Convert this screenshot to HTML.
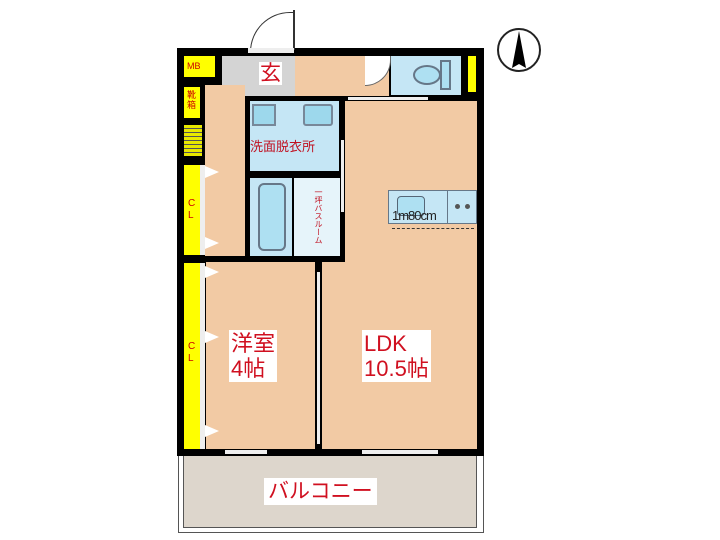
<!DOCTYPE html>
<html><head><meta charset="utf-8"><style>
body{margin:0;width:720px;height:540px;background:#fff;position:relative;overflow:hidden;font-family:"Liberation Sans","Noto Sans CJK JP",sans-serif}
div{position:absolute;box-sizing:border-box}
.k{background:#000}.t{background:#f2caa4}.y{background:#ffff00}.b{background:#c5e6f5}
.lbl{color:#d01020;background:#fff;line-height:1}
.tri{width:0;height:0;border-top:6px solid transparent;border-bottom:6px solid transparent;border-left:14px solid #fff}
</style></head><body>
<div class="k" style="left:177px;top:48px;width:307px;height:408px"></div>
<div class="t" style="left:295px;top:56px;width:94px;height:40px"></div>
<div style="left:222px;top:56px;width:73px;height:40px;background:#d4d4d4"></div>
<div class="t" style="left:205px;top:85px;width:40px;height:171px"></div>
<div class="t" style="left:345px;top:101px;width:132px;height:348px"></div>
<div class="t" style="left:322px;top:262px;width:30px;height:187px"></div>
<div class="t" style="left:206px;top:262px;width:109px;height:187px"></div>
<div class="y" style="left:184px;top:56px;width:31px;height:21px;font-size:9px;padding:5px 0 0 3px;color:#c00">MB</div>
<div class="y" style="left:184px;top:87px;width:16px;height:31px;font-size:9px;color:#c00;line-height:10px;padding:3px 0 0 3px">靴<br>箱</div>
<div style="left:184px;top:125px;width:18px;height:31px;background:repeating-linear-gradient(#e8e800 0 3px,#555 3px 4px)"></div>
<div class="y" style="left:184px;top:165px;width:16px;height:90px;font-size:10px;color:#c00;padding:33px 0 0 4px;line-height:12px">C<br>L</div>
<div class="y" style="left:184px;top:263px;width:16px;height:186px;font-size:10px;color:#c00;padding:78px 0 0 4px;line-height:12px">C<br>L</div>
<div style="left:200px;top:165px;width:5px;height:90px;background:#eee"></div>
<div style="left:200px;top:263px;width:5px;height:186px;background:#eee"></div>
<div class="tri" style="left:205px;top:166px"></div><div class="tri" style="left:205px;top:237px"></div>
<div class="tri" style="left:205px;top:266px"></div><div class="tri" style="left:205px;top:331px"></div><div class="tri" style="left:205px;top:425px"></div>
<div class="b" style="left:250px;top:101px;width:89px;height:70px"></div>
<div class="b" style="left:252px;top:104px;width:24px;height:22px;border:2px solid #789;background:#9dd8ec"></div>
<div class="b" style="left:303px;top:104px;width:30px;height:22px;border:2px solid #789;background:#9dd8ec;border-radius:3px"></div>
<div style="left:250px;top:136px;font-size:13px;color:#c01020">洗面脱衣所</div>
<div style="left:341px;top:140px;width:3px;height:72px;background:#eee"></div>
<div class="b" style="left:250px;top:178px;width:42px;height:78px"></div>
<div style="left:258px;top:183px;width:28px;height:68px;border:2px solid #678;border-radius:6px;background:#aee0f2"></div>
<div style="left:294px;top:178px;width:46px;height:78px;background:#e6f4fa"></div>
<div style="left:314px;top:188px;font-size:8px;color:#c01020;writing-mode:vertical-rl;line-height:1">一坪バスルーム</div>
<div class="b" style="left:391px;top:56px;width:70px;height:39px"></div>
<div style="left:413px;top:65px;width:28px;height:20px;border:2px solid #678;border-radius:50%;background:#aee0f2"></div>
<div style="left:440px;top:60px;width:11px;height:30px;border:2px solid #678;background:#aee0f2"></div>
<div class="y" style="left:468px;top:56px;width:8px;height:36px"></div>
<div style="left:365px;top:56px;width:26px;height:30px;background:#fff;border-radius:0 0 30px 0;border-right:1px solid #666;border-bottom:1px solid #666"></div>
<div style="left:348px;top:97px;width:80px;height:3px;background:#eee"></div>
<div class="b" style="left:388px;top:190px;width:89px;height:34px;border:1px solid #678"></div>
<div style="left:447px;top:190px;width:1px;height:34px;background:#678"></div>
<div style="left:397px;top:196px;width:28px;height:20px;border:1px solid #567;border-radius:4px;background:#aee0f2"></div>
<div style="left:455px;top:204px;width:5px;height:5px;border-radius:50%;background:#555"></div>
<div style="left:465px;top:204px;width:5px;height:5px;border-radius:50%;background:#555"></div>
<div style="left:392px;top:208px;font-size:13px;color:#222;letter-spacing:-1px">1m80cm</div>
<div style="left:392px;top:228px;width:82px;border-top:1px dashed #333"></div>
<div style="left:250px;top:12px;width:44px;height:40px;border:1px solid #333;border-bottom:none;border-right:none;border-radius:44px 0 0 0;background:#fff"></div>
<div style="left:293px;top:10px;width:2px;height:40px;background:#333"></div>
<div style="left:248px;top:48px;width:46px;height:5px;background:#eee"></div>
<div style="left:225px;top:450px;width:42px;height:4px;background:#eee"></div>
<div style="left:362px;top:450px;width:76px;height:4px;background:#eee"></div>
<div style="left:317px;top:272px;width:3px;height:172px;background:#eee"></div>
<div class="lbl" style="left:259px;top:62px;font-size:21px;padding:1px">玄</div>
<div class="lbl" style="left:229px;top:330px;font-size:22px;padding:1px 2px;line-height:25px">洋室<br>4帖</div>
<div class="lbl" style="left:362px;top:330px;font-size:22px;padding:1px 2px;line-height:25px">LDK<br>10.5帖</div>
<div style="left:178px;top:456px;width:306px;height:77px;border:1px solid #555;border-top:none;background:#fff"></div>
<div style="left:183px;top:456px;width:294px;height:72px;border:1px solid #555;border-top:none;background:#ddd6cc"></div>
<div class="lbl" style="left:264px;top:478px;font-size:21px;padding:3px 4px">バルコニー</div>
<div style="left:497px;top:28px;width:44px;height:44px;border:2px solid #222;border-radius:50%"></div>
<svg style="position:absolute;left:497px;top:28px" width="44" height="44"><polygon points="22,3 15,40 22,36 29,40" fill="#000"/></svg>
</body></html>
